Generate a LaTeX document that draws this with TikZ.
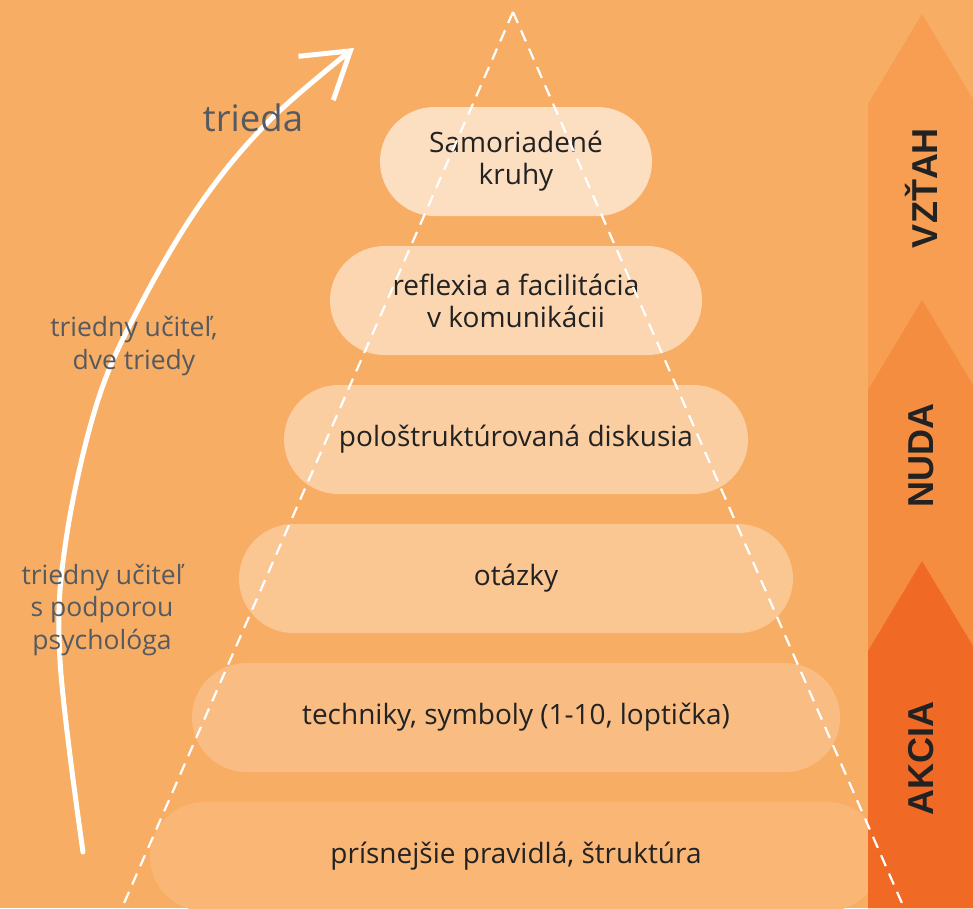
\documentclass[tikz,border=0pt]{standalone}
\usepackage{fontspec}
\setmainfont{Open Sans}
\newfontfamily\stagefont{Liberation Sans}
\usetikzlibrary{arrows.meta}

\definecolor{bgorange}{RGB}{248,173,100}
\definecolor{vztahcol}{RGB}{247,158,83}
\definecolor{nudacol}{RGB}{245,141,64}
\definecolor{akciacol}{RGB}{241,106,37}
\definecolor{labelgray}{RGB}{85,90,96}
\definecolor{textdark}{RGB}{34,34,34}

\tikzset{
  pill/.style={rectangle, rounded corners=54.5pt, minimum height=109pt,
    inner sep=0pt, align=center, text=textdark,
    font=\fontsize{28}{32}\selectfont},
  side/.style={text=labelgray, align=center, font=\fontsize{26.5}{32.5}\selectfont},
  stage/.style={rotate=90, text=textdark,
    font=\stagefont\bfseries\fontsize{36}{36}\selectfont},
  guide/.style={white, line width=2.2pt, dash pattern=on 12pt off 8pt},
}

\begin{document}
\begin{tikzpicture}[x=1pt, y=-1pt]
  \useasboundingbox (0,0) rectangle (973,908);
  \clip (0,0) rectangle (973,908);
  \fill[bgorange] (0,0) rectangle (973,908);

  % the six steps, lighter towards the top
  \foreach \n/\y/\w/\p/\t in {1/161.5/272/60/{Samoriadené\\kruhy},
                              2/300.5/372/50/{reflexia a facilitácia\\v komunikácii},
                              3/439.5/464/40/{pološtruktúrovaná diskusia},
                              4/578.5/554/30/{otázky},
                              5/717.5/648/20/{techniky, symboly (1-10, loptička)},
                              6/856.5/732/11/{prísnejšie pravidlá, štruktúra}}
    \node[pill, fill=white!\p!bgorange, minimum width=\w pt] (p\n) at (516,\y) {\t};

  % stage column on the right
  \fill[vztahcol] (868,104) -- (922,14) -- (976,104) -- (976,908) -- (868,908) -- cycle;
  \fill[nudacol] (868,390) -- (922,300) -- (976,390) -- (976,908) -- (868,908) -- cycle;
  \fill[akciacol] (868,651) -- (922,561) -- (976,651) -- (976,908) -- (868,908) -- cycle;
  \node[stage] (vztah) at (921,188) {VZŤAH};
  \node[stage] (nuda) at (921,455) {NUDA};
  \node[stage] (akcia) at (921,758) {AKCIA};

  % dashed pyramid
  \coordinate (apex) at (513,12);
  \draw[guide] (apex) -- (118,917);
  \draw[guide] (apex) -- (908,917);

  % growth arrow
  \draw[white, line width=5pt, line cap=round,
        -{Straight Barb[length=44pt, width=56pt, line width=5pt]}]
    plot[smooth, tension=0.6] coordinates {(83,852) (60,660) (66,540) (98,400)
      (143,300) (203,200) (270,120) (354,48)};

  % who leads
  \node[side, font=\fontsize{36.5}{36}\selectfont] (trieda) at (253,118) {trieda};
  \node[side] (ucitel) at (134,346) {triedny učiteľ,\\dve triedy};
  \node[side] (podpora) at (102,610) {triedny učiteľ\\s podporou\\psychológa};
\end{tikzpicture}
\end{document}
